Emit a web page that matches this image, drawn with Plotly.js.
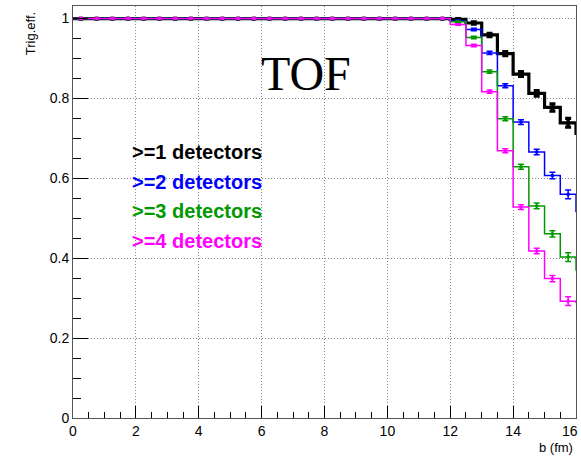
<!DOCTYPE html>
<html>
<head>
<meta charset="utf-8">
<script src="https://cdn.plot.ly/plotly-3.0.1.min.js"></script>
<style>html,body{margin:0;padding:0;background:#fff;}#chart{width:581px;height:456px;}</style>
</head>
<body>
<div id="chart"></div>
<script>
// bin edges (b in fm), last bin lies beyond the axis range
const binEdges = [0,0.5,1,1.5,2,2.5,3,3.5,4,4.5,5,5.5,6,6.5,7,7.5,8,8.5,9,9.5,10,10.5,11,11.5,12,12.5,13,13.5,14,14.5,15,15.5,16,16.5];

const eff1 = [1,1,1,1,1,1,1,1,1,1,1,1,1,1,1,1,1,1,1,1,1,1,1,1, 0.998,0.989,0.959,0.9125,0.861,0.8125,0.7775,0.739,0.7125];
const err1 = [0,0,0,0,0,0,0,0,0,0,0,0,0,0,0,0,0,0,0,0,0,0,0,0, 0.002,0.003,0.004,0.005,0.006,0.007,0.009,0.011,0.011];

const eff2 = [1,1,1,1,1,1,1,1,1,1,1,1,1,1,1,1,1,1,1,1,1,1,1,1, 0.994,0.9725,0.914,0.832,0.741,0.666,0.607,0.56,0.517];
const err2 = [0,0,0,0,0,0,0,0,0,0,0,0,0,0,0,0,0,0,0,0,0,0,0,0, 0.002,0.003,0.004,0.005,0.006,0.007,0.008,0.011,0.011];

const eff3 = [1,1,1,1,1,1,1,1,1,1,1,1,1,1,1,1,1,1,1,1,1,1,1,1, 0.992,0.9525,0.867,0.749,0.629,0.531,0.461,0.403,0.371];
const err3 = [0,0,0,0,0,0,0,0,0,0,0,0,0,0,0,0,0,0,0,0,0,0,0,0, 0.002,0.003,0.004,0.005,0.006,0.007,0.008,0.011,0.011];

const eff4 = [1,1,1,1,1,1,1,1,1,1,1,1,1,1,1,1,1,1,1,1,1,1,1,1, 0.985,0.9325,0.817,0.669,0.528,0.418,0.349,0.2925,0.29];
const err4 = [0,0,0,0,0,0,0,0,0,0,0,0,0,0,0,0,0,0,0,0,0,0,0,0, 0.002,0.003,0.004,0.005,0.006,0.007,0.008,0.011,0.011];

const xTickVals = [0, 2, 4, 6, 8, 10, 12, 14, 16];
const xTickText = ['0', '2', '4', '6', '8', '10', '12', '14', ''];
const lastXTickLabel = '16';

const seriesNames = [">=1 detectors", ">=2 detectors", ">=3 detectors", ">=4 detectors"];
const seriesColors = ["#000000", "#0000ff", "#009900", "#ff00ff"];
const lineWidths = [3.2, 1.5, 1.5, 1.5];

const centers = binEdges.slice(0, -1).map((e, i) => (e + binEdges[i + 1]) / 2);
const effs = [eff1, eff2, eff3, eff4];
const errs = [err1, err2, err3, err4];

const traces = [];
effs.forEach((vals, k) => {
  traces.push({
    x: binEdges,
    y: vals.concat([vals[vals.length - 1]]),
    mode: 'lines',
    line: {shape: 'hv', color: seriesColors[k], width: lineWidths[k]},
    hoverinfo: 'skip',
    showlegend: false
  });
  traces.push({
    x: centers,
    y: vals,
    mode: 'markers',
    marker: {symbol: 'square', size: k === 0 ? 4 : 3, color: seriesColors[k]},
    error_y: {type: 'data', array: errs[k], visible: true, color: seriesColors[k], thickness: lineWidths[k], width: 3},
    name: seriesNames[k],
    showlegend: false
  });
});

const legendY = [0.6456, 0.574, 0.5024, 0.4308];
const annotations = seriesNames.map((t, k) => ({
  text: t, xref: 'paper', yref: 'paper', x: 0.1133, y: legendY[k],
  xanchor: 'left', yanchor: 'middle', showarrow: false,
  font: {family: 'Liberation Sans, Arial, sans-serif', size: 20, color: seriesColors[k], weight: 'bold'}
}));
annotations.push({
  text: 'TOF', xref: 'paper', yref: 'paper', x: 0.463, y: 0.835,
  xanchor: 'center', yanchor: 'middle', showarrow: false,
  font: {family: 'Liberation Serif, Times New Roman, serif', size: 48, color: '#000'}
});
annotations.push({
  text: 'Trig.eff.', xref: 'paper', yref: 'paper', x: -0.0855, y: 0.934,
  xanchor: 'center', yanchor: 'middle', textangle: -90, showarrow: false,
  font: {family: 'Liberation Sans, Arial, sans-serif', size: 13, color: '#000'}
});
annotations.push({
  text: 'b (fm)', xref: 'paper', yref: 'paper', x: 0.998, y: -0.0728,
  xanchor: 'right', yanchor: 'middle', showarrow: false,
  font: {family: 'Liberation Sans, Arial, sans-serif', size: 13, color: '#000'}
});
annotations.push({
  text: lastXTickLabel, xref: 'paper', yref: 'paper', x: 1.008, y: -0.0316,
  xanchor: 'right', yanchor: 'middle', showarrow: false,
  font: {family: 'Liberation Sans, Arial, sans-serif', size: 14, color: '#000'}
});

const layout = {
  width: 581, height: 456,
  margin: {l: 73, r: 5, t: 6, b: 38},
  paper_bgcolor: '#fff', plot_bgcolor: '#fff',
  showlegend: false,
  font: {family: 'Liberation Sans, Arial, sans-serif', size: 14, color: '#000'},
  xaxis: {
    range: [0, 16], tickmode: 'array', tickvals: xTickVals, ticktext: xTickText,
    ticks: 'inside', ticklen: 12, tickcolor: '#000', tickwidth: 1,
    minor: {dtick: 0.5, tick0: 0, ticks: 'inside', ticklen: 6, tickcolor: '#000', showgrid: false},
    showline: true, linecolor: '#555', linewidth: 1, mirror: true,
    showgrid: true, gridcolor: '#888', griddash: '1px,2px', gridwidth: 1,
    zeroline: false, tickfont: {size: 14}
  },
  yaxis: {
    range: [0, 1.0315], dtick: 0.2, tick0: 0,
    ticks: 'inside', ticklen: 15, tickcolor: '#000', tickwidth: 1,
    minor: {dtick: 0.05, ticks: 'inside', ticklen: 8, tickcolor: '#000', showgrid: false},
    showline: true, linecolor: '#555', linewidth: 1, mirror: true,
    showgrid: true, gridcolor: '#888', griddash: '1px,2px', gridwidth: 1,
    zeroline: false, tickfont: {size: 14}
  },
  annotations: annotations
};

Plotly.newPlot('chart', traces, layout, {staticPlot: true});
</script>
</body>
</html>
